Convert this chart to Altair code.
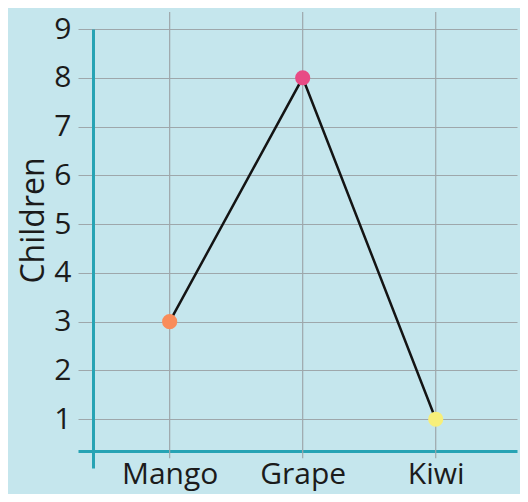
import altair as alt
import pandas as pd

fruits = ["Mango", "Grape", "Kiwi"]
children = [3, 8, 1]
point_colors = ["#f98c5a", "#e84b85", "#f7ef7a"]

df = pd.DataFrame({"fruit": fruits, "children": children, "color": point_colors})

FONT = "Open Sans"
BG = "#c5e6ed"
TEAL = "#27a3b4"
GRID = "#9ea7ab"
TXT = "#1b1b1b"

xscale = alt.Scale(type="point", padding=0.65, align=0.53)
yscale = alt.Scale(domain=[0, 9], nice=False, zero=True)

x = alt.X(
    "fruit:N",
    sort=fruits,
    scale=xscale,
    axis=alt.Axis(
        title=None,
        domainColor=TEAL,
        domainWidth=3,
        offset=-17,
        ticks=False,
        tickSize=0,
        grid=False,
        labelFont=FONT,
        labelFontSize=30,
        labelColor=TXT,
        labelPadding=8,
        labelAngle=0,
    ),
)
y = alt.Y(
    "children:Q",
    scale=yscale,
    axis=alt.Axis(
        title="Children",
        values=list(range(1, 10)),
        domainColor=TEAL,
        domainWidth=3,
        offset=-15,
        ticks=False,
        tickSize=0,
        grid=True,
        gridColor=GRID,
        gridWidth=1.2,
        labelFont=FONT,
        labelFontSize=30,
        labelColor=TXT,
        labelPadding=22,
        titleFont=FONT,
        titleFontSize=32,
        titleFontWeight="normal",
        titleColor=TXT,
        titlePadding=3,
        titleY=191,
    ),
)

vgrid = alt.Chart(df).mark_rule(color=GRID, strokeWidth=1.2).encode(
    x=x,
    y=alt.datum(9.35, scale=yscale),
    y2=alt.datum(0.2),
)
line = alt.Chart(df).mark_line(color="#141414", strokeWidth=2.5).encode(x=x, y=y)
points = alt.Chart(df).mark_circle(size=230, opacity=1).encode(
    x=x, y=y, color=alt.Color("color:N", scale=None)
)

chart = (
    alt.layer(vgrid, line, points)
    .properties(
        width=439,
        height=439,
        autosize=alt.AutoSizeParams(type="none"),
        padding={"left": 70, "top": 21, "right": 3, "bottom": 26},
        background=BG,
    )
    .configure_view(stroke=None)
)

chart.save("out.html", embed_options={"renderer": "svg", "actions": False})
